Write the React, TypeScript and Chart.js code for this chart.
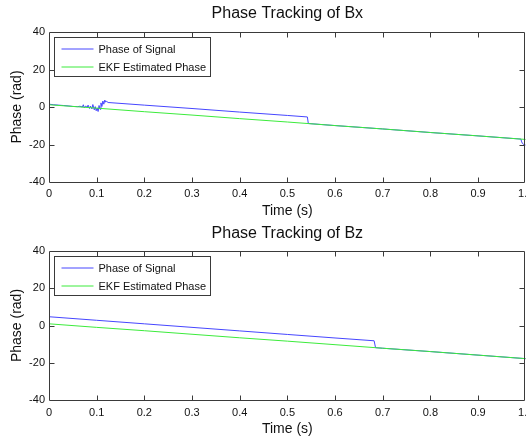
import React, { useEffect, useRef } from 'react';
import { Chart, registerables } from 'chart.js';

Chart.register(...registerables);

// ---------- data ----------
const seriesLabels = ['Phase of Signal', 'EKF Estimated Phase'];
const seriesColors = ['rgb(70,70,255)', 'rgb(60,235,60)'];
const chartTitles = ['Phase Tracking of Bx', 'Phase Tracking of Bz'];
const xAxisLabel = 'Time (s)';
const yAxisLabel = 'Phase (rad)';
const xTickLimits = [0, 1];
const xTickStep = 0.1;
const yTickLimits = [-40, 40];
const yTickStep = 20;

// Bx: phase of signal
const bxSignalTime = [
  0, 0.01, 0.02, 0.03, 0.04, 0.05, 0.06, 0.065, 0.07, 0.072, 0.074, 0.077, 0.08, 0.082,
  0.085, 0.087, 0.09, 0.092, 0.095, 0.097, 0.099, 0.101, 0.103, 0.105, 0.107, 0.109, 0.111,
  0.113, 0.115, 0.117, 0.119, 0.121, 0.124, 0.2, 0.3, 0.4, 0.5, 0.542, 0.544, 0.6, 0.7, 0.8,
  0.9, 0.99, 0.991, 0.993, 0.996, 1.0,
];
const bxSignalPhase = [
  1.5, 1.2, 1.0, 0.8, 0.6, 0.3, 0.2, 0.4, 0.0, 1.2, -0.5, 0.6, -0.3, 1.0,
  -0.8, 0.5, -1.0, 1.3, -1.5, 0.2, -2.0, -0.5, -2.4, 0.8, -1.2, 2.2, 0.3,
  3.2, 1.5, 3.7, 2.6, 3.0, 2.4, 1.0, -0.8, -2.7, -4.5, -5.3, -8.8, -9.9, -11.7, -13.6,
  -15.4, -17.1, -18.2, -19.4, -20.0, -20.3,
];
// Bx: EKF estimated phase
const bxEkfTime = [0, 0.1, 0.2, 0.3, 0.4, 0.5, 0.6, 0.7, 0.8, 0.9, 1.0];
const bxEkfPhase = [1.2, -0.6, -2.5, -4.3, -6.2, -8.0, -9.9, -11.7, -13.6, -15.4, -17.3];

// Bz: phase of signal
const bzSignalTime = [0, 0.1, 0.2, 0.3, 0.4, 0.5, 0.6, 0.682, 0.685, 0.7, 0.8, 0.9, 1.0];
const bzSignalPhase = [4.7, 2.8, 0.9, -1.0, -2.9, -4.8, -6.7, -8.2, -11.9, -12.2, -14.0, -15.9, -17.8];
// Bz: EKF estimated phase
const bzEkfTime = [0, 0.1, 0.2, 0.3, 0.4, 0.5, 0.6, 0.7, 0.8, 0.9, 1.0];
const bzEkfPhase = [0.9, -1.0, -2.8, -4.7, -6.6, -8.4, -10.3, -12.2, -14.0, -15.9, -17.8];

const toPoints = (t: number[], v: number[]) => t.map((x, i) => ({ x, y: v[i] }));

// ---------- plugins ----------
const frameColor = '#3a3a3a';
const textColor = '#111';
const fontFamily = "'Liberation Sans', Arial, Helvetica, sans-serif";

const frameTicksPlugin = {
  id: 'frameTicks',
  afterDatasetsDraw(chart: any) {
    const { ctx, chartArea: a, scales } = chart;
    const xs = scales.x;
    const ys = scales.y;
    const L = Math.floor(a.left) + 0.5;
    const R = Math.floor(a.right) - 0.5;
    const T = Math.floor(a.top) + 0.5;
    const B = Math.floor(a.bottom) + 0.5;
    const len = 5;
    ctx.save();
    ctx.strokeStyle = frameColor;
    ctx.lineWidth = 1;
    ctx.beginPath();
    ctx.rect(L, T, R - L, B - T);
    for (const t of xs.ticks) {
      const px = Math.round(xs.getPixelForValue(t.value)) + 0.5;
      if (px <= L + 1 || px >= R - 1) continue;
      ctx.moveTo(px, B);
      ctx.lineTo(px, B - len);
      ctx.moveTo(px, T);
      ctx.lineTo(px, T + len);
    }
    for (const t of ys.ticks) {
      const py = Math.round(ys.getPixelForValue(t.value)) + 0.5;
      if (py <= T + 1 || py >= B - 1) continue;
      ctx.moveTo(L, py);
      ctx.lineTo(L + len, py);
      ctx.moveTo(R, py);
      ctx.lineTo(R - len, py);
    }
    ctx.stroke();
    ctx.restore();
  },
};

const boxLegendPlugin = {
  id: 'boxLegend',
  afterDraw(chart: any) {
    const { ctx, chartArea: a } = chart;
    const x0 = Math.floor(a.left) + 5.5;
    const y0 = Math.floor(a.top) + 5.5;
    const w = 156;
    const h = 39;
    ctx.save();
    ctx.fillStyle = '#fff';
    ctx.fillRect(x0, y0, w, h);
    ctx.strokeStyle = frameColor;
    ctx.lineWidth = 1;
    ctx.strokeRect(x0, y0, w, h);
    ctx.font = `11px ${fontFamily}`;
    ctx.textBaseline = 'middle';
    ctx.textAlign = 'left';
    chart.data.datasets.forEach((ds: any, i: number) => {
      const ly = Math.round(y0 + 11 + i * 18);
      ctx.strokeStyle = ds.borderColor;
      ctx.beginPath();
      ctx.moveTo(x0 + 7, ly);
      ctx.lineTo(x0 + 39, ly);
      ctx.stroke();
      ctx.fillStyle = textColor;
      ctx.fillText(ds.label, x0 + 44, ly + 1);
    });
    ctx.restore();
  },
};

// ---------- chart component ----------
type PanelProps = {
  title: string;
  signal: { x: number; y: number }[];
  ekf: { x: number; y: number }[];
  top: number;
  height: number;
  titlePad: { top: number; bottom: number };
  xAxisHeight: number;
  xTickPad: number;
  xTitlePadBottom: number;
};

const CANVAS_W = 540;

function PhasePanel(p: PanelProps) {
  const ref = useRef<HTMLCanvasElement | null>(null);
  useEffect(() => {
    if (!ref.current) return;
    const chart = new Chart(ref.current, {
      type: 'line',
      data: {
        datasets: [
          {
            label: seriesLabels[0],
            data: p.signal,
            borderColor: seriesColors[0],
            backgroundColor: seriesColors[0],
            borderWidth: 1,
            pointRadius: 0,
            tension: 0,
            order: 1,
          },
          {
            label: seriesLabels[1],
            data: p.ekf,
            borderColor: seriesColors[1],
            backgroundColor: seriesColors[1],
            borderWidth: 1,
            pointRadius: 0,
            tension: 0,
            order: 0,
          },
        ],
      },
      options: {
        animation: false,
        responsive: false,
        events: [],
        layout: { padding: { left: 0, right: CANVAS_W - 525.7, top: 0, bottom: 0 } },
        plugins: {
          legend: { display: false },
          tooltip: { enabled: false },
          title: {
            display: true,
            text: p.title,
            fullSize: false,
            color: textColor,
            font: { family: fontFamily, size: 16, weight: 'normal', lineHeight: 1.2 },
            padding: p.titlePad,
          },
        },
        scales: {
          x: {
            type: 'linear',
            min: xTickLimits[0],
            max: xTickLimits[1],
            grid: { display: false, drawTicks: false },
            border: { display: false },
            ticks: {
              stepSize: xTickStep,
              autoSkip: false,
              maxRotation: 0,
              color: textColor,
              padding: p.xTickPad,
              font: { family: fontFamily, size: 11 },
            },
            title: {
              display: true,
              text: xAxisLabel,
              color: textColor,
              font: { family: fontFamily, size: 14, lineHeight: 1.2 },
              padding: { top: 0, bottom: p.xTitlePadBottom },
            },
            afterFit: (s: any) => {
              s.height = p.xAxisHeight;
            },
          },
          y: {
            type: 'linear',
            min: yTickLimits[0],
            max: yTickLimits[1],
            grid: { display: false, drawTicks: false },
            border: { display: false },
            ticks: {
              stepSize: yTickStep,
              color: textColor,
              padding: 4,
              font: { family: fontFamily, size: 11 },
            },
            title: {
              display: true,
              text: yAxisLabel,
              color: textColor,
              font: { family: fontFamily, size: 14, lineHeight: 1.2 },
              padding: { top: 9, bottom: 0 },
            },
            afterFit: (s: any) => {
              s.width = 49;
            },
          },
        },
      } as any,
      plugins: [frameTicksPlugin, boxLegendPlugin],
    });
    return () => chart.destroy();
  }, []);
  return (
    <canvas
      ref={ref}
      width={CANVAS_W}
      height={p.height}
      style={{ position: 'absolute', left: 0, top: p.top, width: CANVAS_W, height: p.height }}
    />
  );
}

export default function App() {
  return (
    <div
      style={{
        position: 'fixed',
        left: 0,
        top: 0,
        width: 526,
        height: 442,
        overflow: 'hidden',
        background: '#fff',
      }}
    >
      <PhasePanel
        title={chartTitles[0]}
        signal={toPoints(bxSignalTime, bxSignalPhase)}
        ekf={toPoints(bxEkfTime, bxEkfPhase)}
        top={0}
        height={221}
        titlePad={{ top: 4.4, bottom: 8.4 }}
        xAxisHeight={39}
        xTickPad={5}
        xTitlePadBottom={1.6}
      />
      <PhasePanel
        title={chartTitles[1]}
        signal={toPoints(bzSignalTime, bzSignalPhase)}
        ekf={toPoints(bzEkfTime, bzEkfPhase)}
        top={221}
        height={221}
        titlePad={{ top: 3.1, bottom: 7.7 }}
        xAxisHeight={42}
        xTickPad={6}
        xTitlePadBottom={4.1}
      />
    </div>
  );
}
